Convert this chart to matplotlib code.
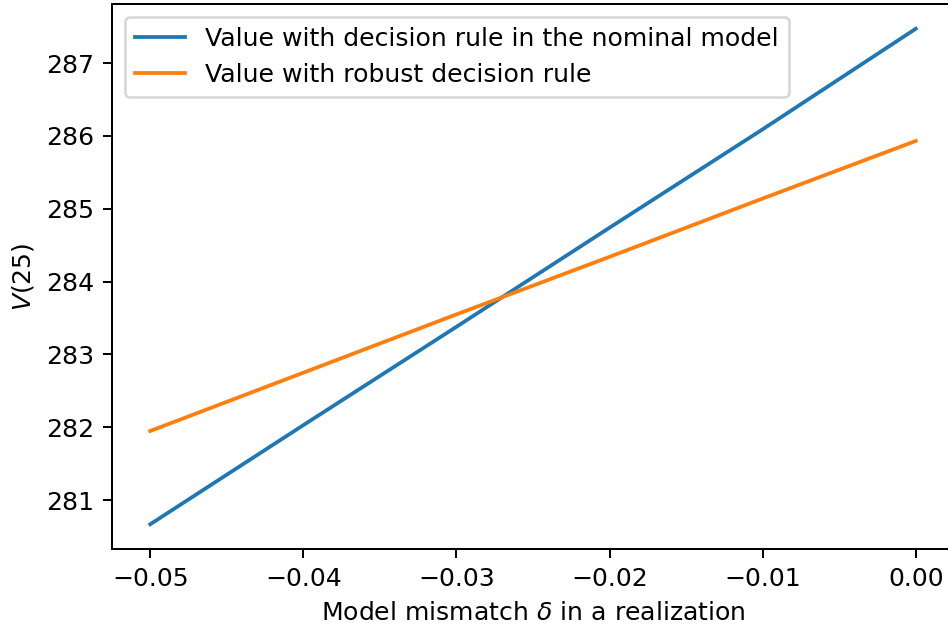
import numpy as np
import matplotlib
matplotlib.use("Agg")
import matplotlib.pyplot as plt

# model mismatch values and V(25)
delta = [-0.05, -0.04, -0.03, -0.02, -0.01, 0.0]
v_nominal = [280.67, 282.03, 283.38, 284.74, 286.09, 287.47]
v_robust = [281.95, 282.75, 283.55, 284.34, 285.14, 285.93]

dpi = 181
fig, ax = plt.subplots(figsize=(948 / dpi, 628 / dpi), dpi=dpi)
ax.plot(delta, v_nominal, label="Value with decision rule in the nominal model")
ax.plot(delta, v_robust, label="Value with robust decision rule")
ax.set_xlabel(r"Model mismatch $\delta$ in a realization")
ax.set_ylabel(r"$V(25)$")
ax.legend(loc="upper left")
# right spine sits just past the image edge, as in the reference
fig.subplots_adjust(left=112 / 948, right=954 / 948, top=1 - 4 / 628, bottom=1 - 549 / 628)
fig.savefig("out.png", dpi=dpi)
